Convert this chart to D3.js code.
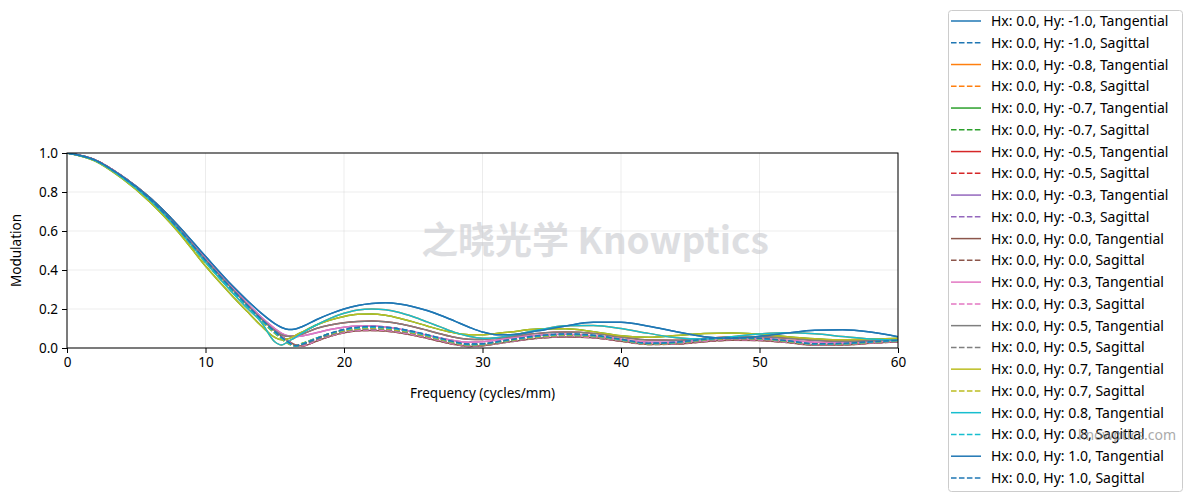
<!DOCTYPE html>
<html>
<head>
<meta charset="utf-8">
<script src="https://cdn.jsdelivr.net/npm/d3@7"></script>
<style>
  body { margin: 0; background: #fff; }
  svg { font-family: "Noto Sans", "DejaVu Sans", sans-serif; }
</style>
</head>
<body>
<svg id="chart" width="1187" height="502"></svg>
<script>
// spatial frequency samples (cycles/mm)
var freq = [0,2,4,6,8,10,12,13,14,15,15.5,16,16.5,17,18,19,20,21,22,23,24,25,26,27,28,29,30,31,32,34,36,38,40,42,44,46,48,50,52,54,56,58,60];

// tangential MTF, by |Hy| (field is symmetric, -Hy equals +Hy)
var tan00 = [1.000,0.966,0.881,0.770,0.628,0.462,0.305,0.228,0.155,0.090,0.060,0.035,0.015,0.010,0.035,0.060,0.078,0.088,0.090,0.087,0.078,0.065,0.050,0.033,0.018,0.008,0.012,0.022,0.032,0.050,0.057,0.052,0.035,0.018,0.020,0.032,0.040,0.038,0.028,0.015,0.016,0.024,0.032];
var tan03 = [1.000,0.966,0.880,0.768,0.625,0.460,0.305,0.230,0.160,0.100,0.075,0.062,0.058,0.062,0.078,0.095,0.107,0.113,0.113,0.108,0.098,0.083,0.066,0.050,0.037,0.030,0.032,0.040,0.050,0.065,0.070,0.062,0.045,0.030,0.030,0.040,0.048,0.048,0.040,0.030,0.027,0.030,0.037];
var tan05 = [1.000,0.964,0.877,0.763,0.618,0.452,0.297,0.222,0.152,0.090,0.068,0.060,0.063,0.072,0.100,0.118,0.130,0.136,0.138,0.134,0.124,0.109,0.091,0.072,0.055,0.045,0.044,0.049,0.058,0.075,0.082,0.075,0.056,0.041,0.040,0.049,0.057,0.058,0.050,0.040,0.034,0.037,0.044];
var tan07 = [1.000,0.960,0.868,0.748,0.598,0.420,0.262,0.188,0.115,0.055,0.042,0.048,0.065,0.083,0.118,0.143,0.162,0.173,0.175,0.168,0.153,0.134,0.113,0.093,0.077,0.068,0.068,0.074,0.082,0.097,0.099,0.084,0.063,0.055,0.064,0.074,0.077,0.070,0.058,0.048,0.042,0.045,0.050];
var tan08 = [1.000,0.962,0.874,0.758,0.610,0.440,0.280,0.205,0.135,0.032,0.015,0.035,0.055,0.078,0.118,0.152,0.178,0.195,0.200,0.196,0.182,0.160,0.134,0.107,0.080,0.060,0.050,0.053,0.064,0.092,0.114,0.116,0.100,0.075,0.052,0.046,0.058,0.072,0.078,0.073,0.059,0.046,0.040];
var tan10 = [1.000,0.965,0.880,0.770,0.630,0.470,0.315,0.245,0.180,0.125,0.105,0.095,0.098,0.110,0.145,0.175,0.200,0.218,0.228,0.232,0.226,0.212,0.192,0.167,0.138,0.108,0.082,0.068,0.068,0.088,0.113,0.132,0.132,0.112,0.083,0.058,0.050,0.060,0.077,0.091,0.094,0.082,0.058];

// sagittal MTF, by |Hy|
var sag00 = tan00;
var sag03 = [1.000,0.965,0.880,0.767,0.623,0.458,0.303,0.227,0.154,0.089,0.059,0.033,0.013,0.012,0.038,0.062,0.080,0.090,0.093,0.090,0.081,0.068,0.053,0.036,0.020,0.010,0.013,0.023,0.033,0.052,0.059,0.054,0.037,0.019,0.022,0.035,0.043,0.041,0.030,0.017,0.018,0.025,0.033];
var sag05 = [1.000,0.964,0.878,0.764,0.618,0.452,0.298,0.222,0.150,0.085,0.054,0.028,0.010,0.016,0.042,0.066,0.084,0.095,0.098,0.095,0.086,0.073,0.057,0.040,0.024,0.012,0.014,0.024,0.035,0.054,0.062,0.057,0.039,0.020,0.024,0.038,0.046,0.044,0.032,0.018,0.019,0.027,0.035];
var sag07 = [1.000,0.962,0.872,0.755,0.606,0.438,0.284,0.210,0.140,0.076,0.046,0.022,0.012,0.024,0.050,0.072,0.089,0.099,0.102,0.099,0.090,0.077,0.060,0.043,0.026,0.015,0.018,0.028,0.039,0.057,0.066,0.060,0.041,0.021,0.026,0.041,0.049,0.046,0.034,0.019,0.021,0.029,0.037];
var sag08 = [1.000,0.963,0.875,0.759,0.611,0.445,0.290,0.215,0.145,0.080,0.050,0.025,0.010,0.022,0.050,0.074,0.092,0.103,0.106,0.103,0.094,0.081,0.064,0.046,0.029,0.017,0.020,0.030,0.041,0.060,0.069,0.063,0.043,0.023,0.028,0.043,0.051,0.048,0.036,0.020,0.022,0.030,0.038];
var sag10 = [1.000,0.964,0.877,0.762,0.615,0.450,0.295,0.220,0.150,0.085,0.055,0.030,0.012,0.020,0.048,0.075,0.095,0.107,0.110,0.107,0.098,0.085,0.068,0.050,0.032,0.020,0.022,0.032,0.043,0.063,0.072,0.066,0.045,0.025,0.030,0.045,0.053,0.050,0.038,0.022,0.024,0.032,0.040];

var hyList = [-1.0, -0.8, -0.7, -0.5, -0.3, 0.0, 0.3, 0.5, 0.7, 0.8, 1.0];
var tanByHy = {"0.0": tan00, "0.3": tan03, "0.5": tan05, "0.7": tan07, "0.8": tan08, "1.0": tan10};
var sagByHy = {"0.0": sag00, "0.3": sag03, "0.5": sag05, "0.7": sag07, "0.8": sag08, "1.0": sag10};
var xTicks = [0, 10, 20, 30, 40, 50, 60];
var yTicks = [0, 0.2, 0.4, 0.6, 0.8, 1.0];

var colors = d3.schemeCategory10;

// build the series list in plotting order
var series = [];
hyList.forEach(function(hy, i) {
    var key = Math.abs(hy).toFixed(1);
    series.push({label: "Hx: 0.0, Hy: " + hy.toFixed(1) + ", Tangential", values: tanByHy[key], color: colors[i % 10], dashed: false});
    series.push({label: "Hx: 0.0, Hy: " + hy.toFixed(1) + ", Sagittal", values: sagByHy[key], color: colors[i % 10], dashed: true});
});

var svg = d3.select("#chart");
var margin = {left: 67, right: 898, top: 153, bottom: 348};

var x = d3.scaleLinear().domain([0, 60]).range([margin.left, margin.right]);
var y = d3.scaleLinear().domain([0, 1]).range([margin.bottom, margin.top]);

svg.append("defs").append("clipPath").attr("id", "plotclip")
  .append("rect")
    .attr("x", margin.left).attr("y", margin.top)
    .attr("width", margin.right - margin.left).attr("height", margin.bottom - margin.top);

// grid
var grid = svg.append("g").attr("class", "grid");
grid.selectAll(".gx").data(xTicks).enter().append("line")
    .attr("x1", d => x(d)).attr("x2", d => x(d))
    .attr("y1", margin.top).attr("y2", margin.bottom)
    .style("stroke", "#b0b0b0").style("stroke-opacity", 0.3).style("stroke-width", 0.8);
grid.selectAll(".gy").data(yTicks).enter().append("line")
    .attr("x1", margin.left).attr("x2", margin.right)
    .attr("y1", d => y(d)).attr("y2", d => y(d))
    .style("stroke", "#b0b0b0").style("stroke-opacity", 0.3).style("stroke-width", 0.8);

// watermark
svg.append("text")
    .attr("x", 595).attr("y", 254)
    .attr("text-anchor", "middle")
    .style("font-family", "'Noto Sans CJK SC', 'Noto Sans', sans-serif")
    .style("font-weight", "bold")
    .style("font-size", "37px")
    .style("fill", "#c8c9ce")
    .style("opacity", 0.6)
    .text("之晓光学 Knowptics");

// lines
var line = d3.line()
    .x((d, i) => x(freq[i]))
    .y(d => y(d))
    .curve(d3.curveMonotoneX);

svg.append("g").attr("clip-path", "url(#plotclip)")
  .selectAll("path").data(series).enter().append("path")
    .attr("d", d => line(d.values))
    .style("fill", "none")
    .style("stroke", d => d.color)
    .style("stroke-width", 1.5)
    .style("stroke-dasharray", d => d.dashed ? "5.55,2.4" : null);

// frame
svg.append("rect")
    .attr("x", margin.left).attr("y", margin.top)
    .attr("width", margin.right - margin.left).attr("height", margin.bottom - margin.top)
    .style("fill", "none").style("stroke", "#000").style("stroke-width", 1);

// axes
var xAxis = svg.append("g")
    .attr("transform", "translate(0," + margin.bottom + ")")
    .call(d3.axisBottom(x).tickValues(xTicks).tickFormat(d3.format("d")).tickSize(5).tickPadding(4));
var yAxis = svg.append("g")
    .attr("transform", "translate(" + margin.left + ",0)")
    .call(d3.axisLeft(y).tickValues(yTicks).tickFormat(d3.format(".1f")).tickSize(5).tickPadding(4));
[xAxis, yAxis].forEach(function(a) {
    a.select(".domain").remove();
    a.selectAll("text").style("font-size", "13.5px").style("fill", "#000").style("font-family", "'Noto Sans', sans-serif");
    a.selectAll("line").style("stroke", "#000");
});

svg.append("text")
    .attr("x", (margin.left + margin.right) / 2).attr("y", 398)
    .attr("text-anchor", "middle")
    .style("font-size", "13.5px")
    .text("Frequency (cycles/mm)");
svg.append("text")
    .attr("transform", "translate(21," + ((margin.top + margin.bottom) / 2) + ") rotate(-90)")
    .attr("text-anchor", "middle")
    .style("font-size", "13.5px")
    .text("Modulation");

// legend
var legend = svg.append("g");
legend.append("rect")
    .attr("x", 948.5).attr("y", 10.5).attr("width", 234).attr("height", 481)
    .attr("rx", 3).attr("ry", 3)
    .style("fill", "#fff").style("stroke", "#cccccc").style("stroke-width", 1);
var rowH = 21.76;
var item = legend.selectAll(".item").data(series).enter().append("g")
    .attr("transform", (d, i) => "translate(0," + (21 + i * rowH) + ")");
item.append("line")
    .attr("x1", 951).attr("x2", 981).attr("y1", 0).attr("y2", 0)
    .style("stroke", d => d.color).style("stroke-width", 1.5)
    .style("stroke-dasharray", d => d.dashed ? "5.55,2.4" : null);
item.append("text")
    .attr("x", 991).attr("y", 5)
    .style("font-size", "14px")
    .text(d => d.label);

// site watermark
svg.append("text")
    .attr("x", 1176).attr("y", 440)
    .attr("text-anchor", "end")
    .style("font-size", "14px")
    .style("fill", "#888")
    .style("opacity", 0.7)
    .text("knowptics.com");
</script>
</body>
</html>
